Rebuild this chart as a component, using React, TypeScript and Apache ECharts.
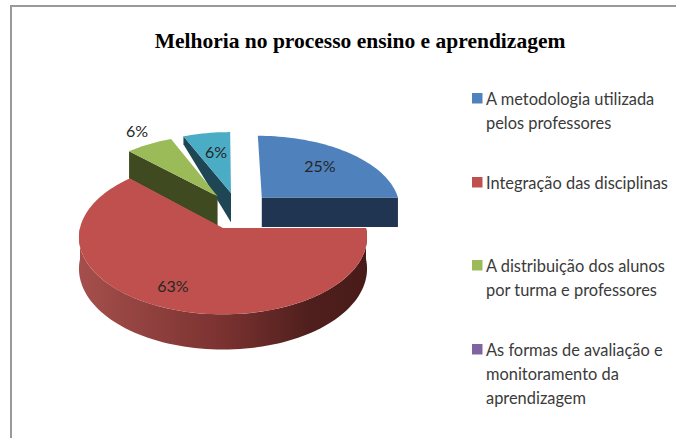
import React, { useEffect, useRef } from "react";
import * as echarts from "echarts";

const titleText = "Melhoria no processo ensino e aprendizagem";
const categories = [
  "A metodologia utilizada\npelos professores",
  "Integração das disciplinas",
  "A distribuição dos alunos\npor turma e professores",
  "As formas de avaliação e\nmonitoramento da\naprendizagem",
];
const values = [25, 62.5, 6.25, 0, 6.25];
const topColors = ["#4f81bd", "#c0504d", "#9bbb59", "#8064a2", "#4bacc6"];
const wallColors = ["#1f3552", "#7a3230", "#3f4a21", "#4b3a60", "#1e4655"];

// Projection of the tilted disc onto the page
const CX = 223, CY = 228, AX = 143, BY = 76, PERSP = 0.12, DEPTH = 31;
const explode = [[0.285, 0.42], [0, 0], [-0.04, 0.44], [0, 0], [0.059, 0.487]];
const backDepth = [1, 1, 1, 1, 0.3];
const labelPos = [[320, 165], [173, 285], [137, 130], [0, 0], [216, 151]];
const drawOrder = [4, 2, 0, 1];
const labelFont = "Lato, Carlito, sans-serif";

function project(X: number, Y: number, z: number): number[] {
  const s = 1 + PERSP * Y;
  return [CX + (AX * X) / s, CY - (BY * Y) / s + (DEPTH * z) / s];
}

const total = values.reduce((a, b) => a + b, 0);
function sliceAngles(i: number): number[] {
  let sum = 0;
  for (let k = 0; k < i; k++) sum += values[k];
  return [(sum / total) * 360, ((sum + values[i]) / total) * 360];
}

function rim(i: number, deg: number, z: number): number[] {
  const t = (deg * Math.PI) / 180;
  return project(explode[i][0] + Math.sin(t), explode[i][1] + Math.cos(t), z);
}

function arcPoints(i: number, a0: number, a1: number, z: number): number[][] {
  const pts: number[][] = [];
  const n = Math.max(2, Math.ceil((a1 - a0) / 2));
  for (let k = 0; k <= n; k++) pts.push(rim(i, a0 + ((a1 - a0) * k) / n, z));
  return pts;
}

function renderSlice(_params: any, api: any) {
  const i = api.value(0) as number;
  const [a0, a1] = sliceAngles(i);
  const apex = (z: number) => project(explode[i][0], explode[i][1], z);
  const children: any[] = [];
  const radialWall = (deg: number) =>
    children.push({
      type: "polygon",
      shape: { points: [apex(0), rim(i, deg, 0), rim(i, deg, backDepth[i]), apex(1)] },
      style: { fill: wallColors[i] },
    });
  if (Math.sin((a0 * Math.PI) / 180) < -1e-6) radialWall(a0);
  if (Math.sin((a1 * Math.PI) / 180) > 1e-6) radialWall(a1);
  const w0 = Math.max(a0, 90), w1 = Math.min(a1, 270);
  if (w1 > w0 && i === 1) {
    children.push({
      type: "polygon",
      shape: { points: [...arcPoints(i, w0, w1, 0), ...arcPoints(i, w0, w1, 1).reverse()] },
      style: {
        fill: new echarts.graphic.LinearGradient(0, 0, 1, 0, [
          { offset: 0, color: "#a54f4c" },
          { offset: 0.5, color: "#7a3230" },
          { offset: 0.8, color: "#4f1f1d" },
          { offset: 1, color: "#481b19" },
        ]),
      },
    });
  }
  children.push({
    type: "polygon",
    shape: { points: [apex(0), ...arcPoints(i, a0, a1, 0)] },
    style: { fill: topColors[i] },
  });
  children.push({
    type: "text",
    style: {
      text: `${Math.round(values[i])}%`,
      x: labelPos[i][0],
      y: labelPos[i][1],
      align: "center",
      verticalAlign: "middle",
      font: `16px ${labelFont}`,
      fill: "#262626",
    },
  });
  return { type: "group", children };
}

const legendTop = [93, 177, 260, 344];
const legendLine = 23.8;

export default function App() {
  const ref = useRef<HTMLDivElement>(null);
  useEffect(() => {
    document.body.style.margin = "0";
    document.body.style.background = "#fff";
    const chart = echarts.init(ref.current!, undefined, { renderer: "svg" });
    const legendGraphics: any[] = [];
    categories.forEach((c, i) => {
      legendGraphics.push({
        type: "rect",
        shape: { x: 472, y: legendTop[i], width: 10.5, height: 10.5 },
        style: { fill: topColors[i] },
      });
      c.split("\n").forEach((line, j) => {
        legendGraphics.push({
          type: "text",
          style: {
            text: line,
            x: 486,
            y: legendTop[i] + 5.5 + j * legendLine,
            verticalAlign: "middle",
            font: `16.4px ${labelFont}`,
            fill: "#3a3a3a",
          },
        });
      });
    });
    chart.setOption({
      animation: false,
      backgroundColor: "#fff",
      title: {
        text: titleText,
        left: 355,
        top: 25,
        textAlign: "center",
        textStyle: {
          fontFamily: "Liberation Serif",
          fontWeight: "bold",
          fontSize: 21.5,
          color: "#000",
        },
      },
      graphic: [
        { type: "line", shape: { x1: 10, y1: 6, x2: 676, y2: 6 }, style: { stroke: "#999", lineWidth: 2 } },
        { type: "line", shape: { x1: 11, y1: 5, x2: 11, y2: 438 }, style: { stroke: "#999", lineWidth: 2 } },
        ...legendGraphics,
      ],
      series: [
        {
          type: "custom",
          coordinateSystem: "none",
          renderItem: renderSlice,
          data: drawOrder.map((i) => [i]),
          silent: true,
        },
      ],
    });
    return () => chart.dispose();
  }, []);
  return <div ref={ref} style={{ width: 676, height: 438 }} />;
}
